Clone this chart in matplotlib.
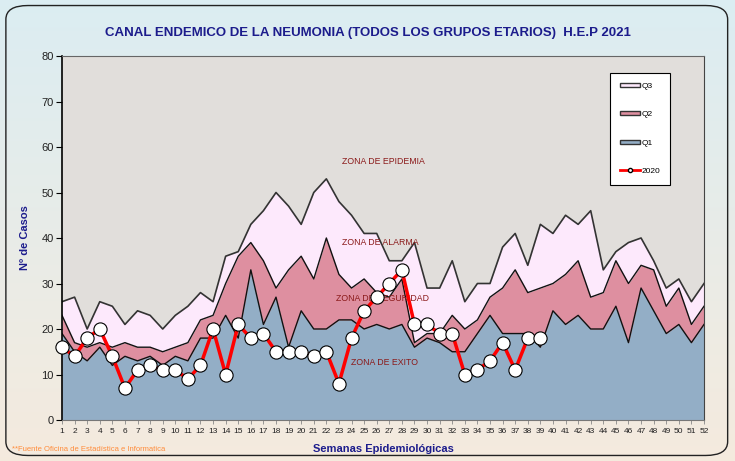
import numpy as np
import matplotlib
matplotlib.use("Agg")
import matplotlib.pyplot as plt
from matplotlib.patches import FancyBboxPatch, Patch
from matplotlib.lines import Line2D

plt.rcParams["font.family"] = ["Liberation Sans", "DejaVu Sans"]

weeks = list(range(1, 53))

q1 = [19, 15, 13, 16, 12, 14, 13, 14, 12, 14, 13, 18, 18, 23, 18, 33, 21, 27, 16, 24,
      20, 20, 22, 22, 20, 21, 20, 21, 16, 18, 17, 15, 15, 19, 23, 19, 19, 19, 16, 24,
      21, 23, 20, 20, 25, 17, 29, 24, 19, 21, 17, 21]
q2 = [23, 17, 16, 17, 16, 17, 16, 16, 15, 16, 17, 22, 23, 30, 36, 39, 35, 29, 33, 36,
      31, 40, 32, 29, 31, 28, 27, 31, 17, 19, 19, 23, 20, 22, 27, 29, 33, 28, 29, 30,
      32, 35, 27, 28, 35, 30, 34, 33, 25, 29, 21, 25]
q3 = [26, 27, 20, 26, 25, 21, 24, 23, 20, 23, 25, 28, 26, 36, 37, 43, 46, 50, 47, 43,
      50, 53, 48, 45, 41, 41, 35, 35, 39, 29, 29, 35, 26, 30, 30, 38, 41, 34, 43, 41,
      45, 43, 46, 33, 37, 39, 40, 35, 29, 31, 26, 30]

weeks_2020 = list(range(1, 40))
cases_2020 = [16, 14, 18, 20, 14, 7, 11, 12, 11, 11, 9, 12, 20, 10, 21, 18, 19, 15, 15, 15,
              14, 15, 8, 18, 24, 27, 30, 33, 21, 21, 19, 19, 10, 11, 13, 17, 11, 18, 18]

zones = ["ZONA DE EPIDEMIA", "ZONA DE ALARMA", "ZONA DE SEGURIDAD", "ZONA DE EXITO"]
zone_pos = [(26.5, 56.9), (26.3, 39.1), (26.5, 26.8), (26.6, 12.7)]

c_q1 = "#93aec6"
c_q2 = "#de8fa0"
c_q3 = "#fde9fc"
c_bg = "#e1dedb"
navy = "#1c1c8c"

fig = plt.figure(figsize=(7.35, 4.61), dpi=100)

# gradient background
bg = fig.add_axes([0, 0, 1, 1], zorder=-2)
grad = np.linspace(0, 1, 256).reshape(-1, 1)
top = np.array([0.86, 0.93, 0.95])
bot = np.array([0.96, 0.92, 0.87])
img = top * (1 - grad[..., None]) + bot * grad[..., None]
img = np.repeat(img, 2, axis=1)
bg.imshow(img, aspect="auto", extent=[0, 1, 0, 1])
bg.set_axis_off()
box = FancyBboxPatch((0.008, 0.012), 0.982, 0.976, boxstyle="round,pad=0,rounding_size=0.03",
                     transform=fig.transFigure, fill=False, edgecolor="#222222", lw=1.0)
fig.patches.append(box)

ax = fig.add_axes([62 / 735, 41 / 461, 642 / 735, 364 / 461])
ax.set_facecolor(c_bg)

ax.fill_between(weeks, 0, q1, color=c_q1, lw=0)
ax.fill_between(weeks, q1, q2, color=c_q2, lw=0)
ax.fill_between(weeks, q2, q3, color=c_q3, lw=0)
ax.plot(weeks, q1, color="#111111", lw=1.0)
ax.plot(weeks, q2, color="#111111", lw=1.0)
ax.plot(weeks, q3, color="#333333", lw=1.2)

ax.plot(weeks_2020, cases_2020, color="#ff0000", lw=2.5, marker="o", markersize=9.5,
        markerfacecolor="white", markeredgecolor="black", markeredgewidth=0.8, zorder=5,
        clip_on=False)

for z, (zx, zy) in zip(zones, zone_pos):
    ax.text(zx, zy, z, color="#8b1a1a", fontsize=6.3, ha="center", va="center", zorder=4)

ax.set_xlim(1, 52)
ax.set_ylim(0, 80)
ax.set_xticks(weeks)
ax.set_xticklabels([str(w) for w in weeks], fontsize=6, color="#222222")
ax.set_yticks(range(0, 81, 10))
ax.set_yticklabels([str(v) for v in range(0, 81, 10)], fontsize=8, color="#222222")
ax.tick_params(axis="x", length=3, width=0.6, color="#888888", pad=2.5)
ax.tick_params(axis="y", length=4, width=0.8, pad=2)
ax.spines["left"].set_color("black")
ax.spines["left"].set_linewidth(1.2)
ax.spines["bottom"].set_color("#777777")
ax.spines["top"].set_color("#666666")
ax.spines["right"].set_color("#444444")

ax.set_ylabel("Nº de Casos", fontsize=8, fontweight="bold", color=navy, labelpad=8)
ax.set_xlabel("Semanas Epidemiológicas", fontsize=8, fontweight="bold", color=navy, labelpad=7)

fig.text(0.5, 0.928, "CANAL ENDEMICO DE LA NEUMONIA (TODOS LOS GRUPOS ETARIOS)  H.E.P 2021",
         ha="center", va="center", fontsize=9.5, fontweight="bold", color=navy)
fig.text(0.016, 0.026, "**Fuente Oficina de Estadística e Informatica", fontsize=5.5,
         color="#ff8c3a", ha="left", va="center")

handles = [Patch(facecolor=c_q3, edgecolor="#333333", lw=1),
           Patch(facecolor=c_q2, edgecolor="#333333", lw=1),
           Patch(facecolor=c_q1, edgecolor="#333333", lw=1),
           Line2D([], [], color="#ff0000", lw=2, marker="o", markersize=3,
                  markerfacecolor="white", markeredgecolor="black")]
leg = ax.legend(handles, ["Q3", "Q2", "Q1", "2020"], loc="upper right",
                bbox_to_anchor=(0.947, 0.953), fontsize=6, frameon=True, fancybox=False,
                labelspacing=2.55, handlelength=2.4, handleheight=0.35, handletextpad=0.2,
                borderpad=1.2, borderaxespad=0, framealpha=1)
leg.get_frame().set_edgecolor("black")
leg.get_frame().set_facecolor("white")
leg.get_frame().set_linewidth(0.8)

fig.savefig("out.png", dpi=100)
